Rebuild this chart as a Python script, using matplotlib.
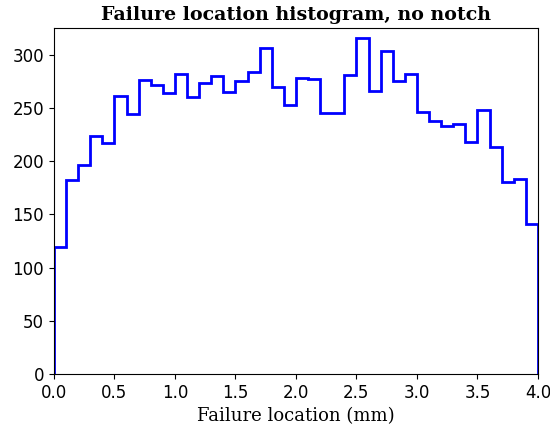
import numpy as np
import matplotlib
matplotlib.use('Agg')
import matplotlib.pyplot as plt

# bin edges (mm) and counts
bin_edges = np.linspace(0.0, 4.0, 41)
counts = [119, 182, 196, 224, 217, 261, 244, 276, 271, 264,
          282, 260, 273, 280, 265, 275, 284, 306, 270, 253,
          278, 277, 245, 245, 281, 316, 266, 303, 275, 282,
          246, 238, 233, 235, 218, 248, 213, 180, 183, 141]

fig = plt.figure(figsize=(5.5, 4.3), dpi=100)
ax = fig.add_axes([0.098, 0.13, 0.88, 0.805])

ax.stairs(counts, bin_edges, color='blue', linewidth=2)

ax.set_xlim(0, 4.0)
ax.set_ylim(0, 325)
ax.set_xticks(np.arange(0, 4.01, 0.5))
ax.tick_params(labelsize=12)
ax.set_title('Failure location histogram, no notch', family='serif',
             fontweight='bold', fontsize=13.7)
ax.set_xlabel('Failure location (mm)', family='serif', fontsize=13)

plt.savefig('out.png', dpi=100)
